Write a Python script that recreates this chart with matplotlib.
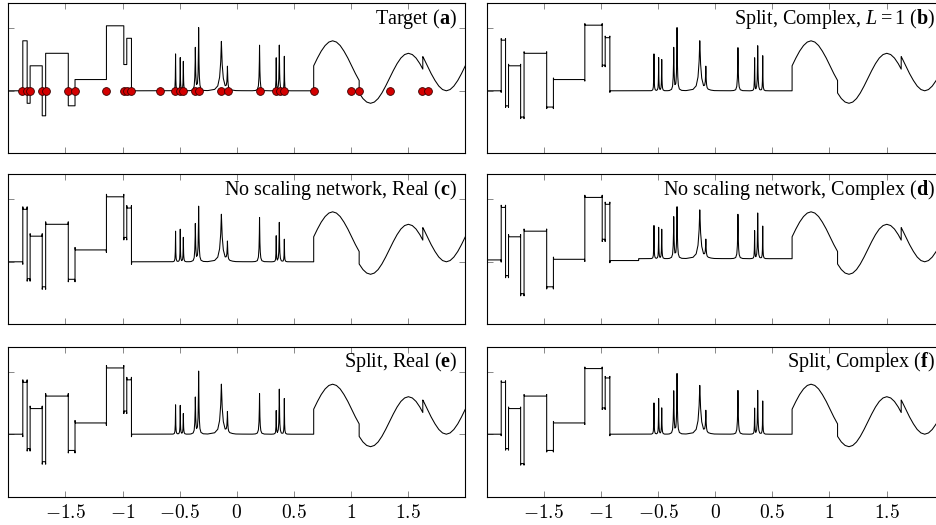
"""Target signal and five reconstructions (blocks / bumps / heavisine pieces)."""
import numpy as np
import matplotlib
matplotlib.use('Agg')
from matplotlib import pyplot as plt

plt.rcParams['font.family'] = ['Liberation Serif', 'DejaVu Serif']
plt.rcParams['mathtext.fontset'] = 'custom'
plt.rcParams['mathtext.rm'] = 'Liberation Serif'
plt.rcParams['mathtext.it'] = 'Liberation Serif:italic'
plt.rcParams['mathtext.bf'] = 'Liberation Serif:bold'

# --- data ----------------------------------------------------------------
PANELS = ['a', 'b', 'c', 'd', 'e', 'f']
TITLES = [r'Target ($\mathbf{a}$)',
          r'Split, Complex, $L=1$ ($\mathbf{b}$)',
          r'No scaling network, Real ($\mathbf{c}$)',
          r'No scaling network, Complex ($\mathbf{d}$)',
          r'Split, Real ($\mathbf{e}$)',
          r'Split, Complex ($\mathbf{f}$)']

# piecewise constant part: jump positions, levels before/after each jump
BLOCK_X = [-1.873, -1.835, -1.809, -1.703, -1.673, -1.475, -1.416, -1.141, -0.989, -0.963, -0.922]
levels_a = [0.00, 0.80, -0.20, 0.40, -0.40, 0.60, -0.24, 0.18, 1.04, 0.42, 0.84, 0.00]
levels_b = [0.00, 0.81, -0.24, 0.40, -0.42, 0.60, -0.26, 0.18, 1.05, 0.41, 0.85, 0.00]
levels_c = [0.00, 0.84, -0.27, 0.41, -0.40, 0.60, -0.28, 0.19, 1.04, 0.39, 0.86, 0.00]
levels_d = [0.03, 0.87, -0.22, 0.40, -0.51, 0.49, -0.40, 0.04, 1.03, 0.36, 0.92, 0.02]
levels_e = [0.00, 0.83, -0.23, 0.41, -0.44, 0.61, -0.26, 0.18, 1.06, 0.37, 0.87, 0.00]
levels_f = [0.00, 0.83, -0.23, 0.41, -0.47, 0.61, -0.26, 0.18, 1.05, 0.42, 0.90, 0.00]

# bump part
BUMP_START, BUMP_END = -0.670, 0.673
BUMP_X = [-0.536, -0.495, -0.468, -0.363, -0.334, -0.135, -0.082, 0.199, 0.345, 0.372, 0.416]
BUMP_W = [0.007, 0.007, 0.008, 0.013, 0.013, 0.040, 0.013, 0.013, 0.007, 0.011, 0.007]
heights_a = [0.59, 0.53, 0.47, 0.68, 1.00, 0.79, 0.36, 0.73, 0.52, 0.73, 0.55]
heights_b = [0.59, 0.53, 0.50, 0.68, 1.00, 0.80, 0.36, 0.69, 0.52, 0.72, 0.56]
heights_c = [0.49, 0.52, 0.39, 0.60, 0.88, 0.76, 0.30, 0.71, 0.41, 0.63, 0.36]
heights_d = [0.58, 0.55, 0.52, 0.71, 0.87, 0.83, 0.33, 0.76, 0.49, 0.78, 0.57]
heights_e = [0.47, 0.46, 0.33, 0.58, 1.00, 0.80, 0.33, 0.65, 0.37, 0.72, 0.57]
heights_f = [0.50, 0.57, 0.42, 0.68, 0.96, 0.78, 0.35, 0.70, 0.41, 0.70, 0.53]
bump_base = [0.00, 0.00, 0.00, 0.05, 0.00, 0.00]

# smooth part with two jumps
HS_X = [0.673, 0.706, 0.739, 0.773, 0.806, 0.839, 0.872, 0.905, 0.938, 0.972, 1.005,
        1.038, 1.071, 1.071, 1.104, 1.137, 1.171, 1.204, 1.237, 1.270, 1.303, 1.337,
        1.370, 1.403, 1.436, 1.469, 1.502, 1.536, 1.569, 1.602, 1.628, 1.628, 1.635,
        1.668, 1.701, 1.735, 1.768, 1.801, 1.834, 1.867, 1.900, 1.934, 1.967, 2.000]
HS_Y = [0.400, 0.524, 0.635, 0.724, 0.780, 0.800, 0.780, 0.724, 0.635, 0.524, 0.400,
        0.276, 0.165, -0.035, -0.124, -0.180, -0.200, -0.180, -0.124, -0.035, 0.076, 0.200,
        0.324, 0.435, 0.524, 0.580, 0.600, 0.580, 0.524, 0.435, 0.347, 0.547, 0.524,
        0.400, 0.276, 0.165, 0.076, 0.020, 0.000, 0.020, 0.076, 0.165, 0.276, 0.400]

# sample locations marked in the target panel
DOT_X = [-1.879, -1.838, -1.809, -1.706, -1.671, -1.475, -1.416, -1.141, -0.989, -0.963,
         -0.922, -0.670, -0.541, -0.495, -0.468, -0.366, -0.334, -0.138, -0.079, 0.199,
         0.345, 0.380, 0.416, 0.673, 1.001, 1.071, 1.340, 1.624, 1.674]

XTICKS = [-1.5, -1, -0.5, 0, 0.5, 1, 1.5]
XTICK_LABELS = ['$-1.5$', '$-1$', '$-0.5$', '$0$', '$0.5$', '$1$', '$1.5$']
YTICKS = [0, 1]

LEVELS = [levels_a, levels_b, levels_c, levels_d, levels_e, levels_f]
HEIGHTS = [heights_a, heights_b, heights_c, heights_d, heights_e, heights_f]

# --- drawing helpers ------------------------------------------------------
# bump shape (peak = 1), in units of the bump width
PROFILE_U = [-6, -3, -1.5, -0.8, -0.4, -0.15, 0, 0.15, 0.4, 0.8, 1.5, 3, 6]
PROFILE_V = [0, 0.004, 0.026, 0.095, 0.26, 0.57, 1, 0.57, 0.26, 0.095, 0.026, 0.004, 0]
OVERSHOOT = [0.0, 0.025, 0.04, 0.035, 0.04, 0.025]


def build_curve(levels, heights, base, overshoot):
    xs, ys = [-2.0], [levels[0]]
    for i, xj in enumerate(BLOCK_X):
        prev, new = levels[i], levels[i + 1]
        if overshoot:
            s = np.sign(new - prev)
            xs += [xj - 0.003, xj, xj, xj + 0.003]
            ys += [prev, prev - overshoot * s, new + overshoot * s, new]
        else:
            xs += [xj, xj]
            ys += [prev, new]
    xs.append(BUMP_START)
    ys.append(levels[-1])
    grid = np.linspace(BUMP_START, BUMP_END, 3000)
    grid = np.sort(np.concatenate([grid, BUMP_X]))
    yb = np.full_like(grid, base)
    for p, h, w in zip(BUMP_X, heights, BUMP_W):
        yb += (h - base) * np.interp((grid - p) / w, PROFILE_U, PROFILE_V)
    xs += list(grid)
    ys += list(yb)
    xs += HS_X
    ys += HS_Y
    return xs, ys


fig = plt.figure(figsize=(9.37, 5.25), dpi=100)
col_left = [8.3 / 937, 486.7 / 937]
row_bottom = [371.7 / 525, 200.7 / 525, 28.3 / 525]
w, h = 457 / 937, 150 / 525

for k, name in enumerate(PANELS):
    row, col = divmod(k, 2)
    ax = fig.add_axes([col_left[col], row_bottom[row], w, h])
    xs, ys = build_curve(LEVELS[k], HEIGHTS[k], bump_base[k], OVERSHOOT[k])
    ax.plot(xs, ys, color='black', lw=0.75)
    if name == 'a':
        ax.plot(DOT_X, np.zeros(len(DOT_X)), 'o', ms=5.6, mfc='#d40000',
                mec='#3a0000', mew=0.6, zorder=3)
    ax.set_xlim(-2, 2)
    ax.set_ylim(-1, 1.4)
    ax.set_xticks(XTICKS)
    ax.set_yticks(YTICKS)
    ax.set_yticklabels([])
    if row == 2:
        ax.set_xticklabels(XTICK_LABELS, fontsize=14)
        for lab in ax.get_xticklabels():
            lab.set_math_fontfamily('cm')
    else:
        ax.set_xticklabels([])
    ax.tick_params(direction='in', length=4.5, width=0.5, color='0.35',
                   top=True, right=True, pad=5)
    for sp in ax.spines.values():
        sp.set_linewidth(0.8)
    ax.text(0.982, 0.975, TITLES[k], transform=ax.transAxes, ha='right', va='top',
            fontsize=14.5)

fig.savefig('out.png', dpi=100)
